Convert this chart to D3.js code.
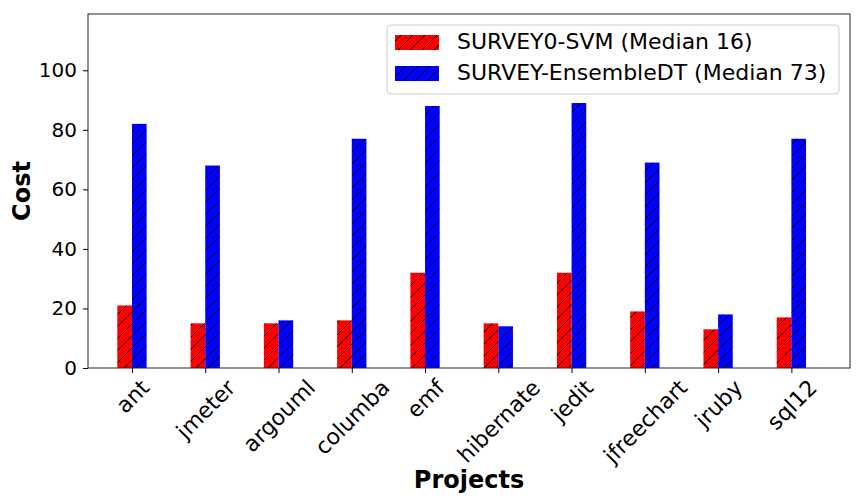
<!DOCTYPE html>
<html>
<head>
<meta charset="utf-8">
<script src="https://cdn.jsdelivr.net/npm/d3@7"></script>
<style>
  body { margin: 0; background: #fff; }
  svg { font-family: "DejaVu Sans", sans-serif; }
</style>
</head>
<body>
<div id="chart"></div>
<script>
var projects = ['ant', 'jmeter', 'argouml', 'columba', 'emf', 'hibernate', 'jedit', 'jfreechart', 'jruby', 'sql12'];
var svmCost = [21, 15, 15, 16, 32, 15, 32, 19, 13, 17];
var ensembleCost = [82, 68, 16, 77, 88, 14, 89, 69, 18, 77];
var seriesNames = ['SURVEY0-SVM (Median 16)', 'SURVEY-EnsembleDT (Median 73)'];
var seriesColors = ['#ff0000', '#0000ff'];
var yTicks = [0, 20, 40, 60, 80, 100];

var W = 864, H = 504;
var m = { left: 88, right: 850, top: 14, bottom: 368 };

var svg = d3.select('#chart').append('svg').attr('width', W).attr('height', H);

// hatch patterns ('//' style)
var defs = svg.append('defs');
seriesColors.forEach(function (c, i) {
  var p = defs.append('pattern').attr('id', 'hatch' + i)
    .attr('patternUnits', 'userSpaceOnUse').attr('width', 12).attr('height', 12);
  p.append('rect').attr('width', 12).attr('height', 12).attr('fill', c);
  p.append('path').attr('d', 'M-3,3 L3,-3 M0,12 L12,0 M9,15 L15,9')
    .attr('stroke', '#000').attr('stroke-width', 1);
});

var x = d3.scaleLinear().domain([-0.6, 9.8]).range([m.left, m.right]);
var y = d3.scaleLinear().domain([0, 118.9]).range([m.bottom, m.top]);
var bw = x(0.2) - x(0);

var series = [svmCost, ensembleCost];
series.forEach(function (vals, si) {
  svg.append('g').selectAll('rect').data(vals).enter().append('rect')
    .attr('x', function (d, i) { return si === 0 ? x(i) - bw : x(i); })
    .attr('y', function (d) { return y(d); })
    .attr('width', bw)
    .attr('height', function (d) { return y(0) - y(d); })
    .attr('fill', 'url(#hatch' + si + ')');
});

// frame
svg.append('rect').attr('x', m.left).attr('y', m.top).attr('width', m.right - m.left).attr('height', m.bottom - m.top)
  .attr('fill', 'none').attr('stroke', '#222').attr('stroke-width', 1);

// y axis
var yAxis = svg.append('g').attr('transform', 'translate(' + m.left + ',0)')
  .call(d3.axisLeft(y).tickValues(yTicks).tickSize(5).tickPadding(6));
yAxis.select('.domain').remove();
yAxis.attr('font-size', 20).attr('font-family', '"DejaVu Sans", sans-serif');
yAxis.selectAll('text').attr('fill', '#000');

// x axis, labels rotated 45deg and centred on the tick (matplotlib style)
var xAxis = svg.append('g').attr('transform', 'translate(0,' + m.bottom + ')')
  .call(d3.axisBottom(x).tickValues(d3.range(projects.length)).tickSize(5)
    .tickFormat(function (d) { return projects[d]; }));
xAxis.select('.domain').remove();
xAxis.attr('font-size', 22).attr('font-family', '"DejaVu Sans", sans-serif');
xAxis.selectAll('text').attr('fill', '#000')
  .attr('text-anchor', 'middle').attr('y', 0).attr('dy', '0.35em')
  .attr('transform', function () {
    var len = this.getComputedTextLength();
    var half = (len + 22 * 0.85) * Math.SQRT1_2 / 2;
    return 'translate(0,' + (9 + half) + ') rotate(-45)';
  });

// axis titles
svg.append('text').attr('transform', 'translate(30,' + ((m.top + m.bottom) / 2) + ') rotate(-90)')
  .attr('text-anchor', 'middle').style('font-size', '24px').style('font-weight', 'bold').text('Cost');
svg.append('text').attr('x', (m.left + m.right) / 2).attr('y', 488)
  .attr('text-anchor', 'middle').style('font-size', '24px').style('font-weight', 'bold').text('Projects');

// legend
var lg = svg.append('g').attr('transform', 'translate(387,25)');
lg.append('rect').attr('width', 452).attr('height', 69).attr('rx', 4)
  .attr('fill', '#fff').attr('fill-opacity', 0.8).attr('stroke', '#ccc');
seriesNames.forEach(function (n, i) {
  lg.append('rect').attr('x', 8).attr('y', 10 + i * 31).attr('width', 44).attr('height', 15)
    .attr('fill', 'url(#hatch' + i + ')');
  lg.append('text').attr('x', 70).attr('y', 24 + i * 31).style('font-size', '22px').text(n);
});
</script>
</body>
</html>
